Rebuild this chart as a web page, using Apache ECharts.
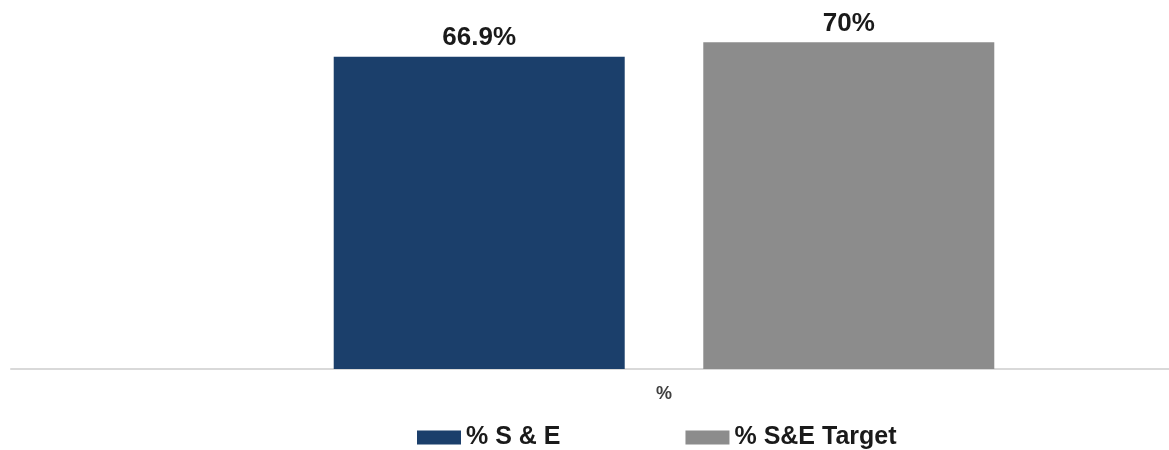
<!DOCTYPE html>
<html>
<head>
<meta charset="utf-8">
<style>
html,body{margin:0;padding:0;background:#fff;}
#chart{width:1169px;height:450px;}
</style>
<script src="https://cdn.jsdelivr.net/npm/echarts@6/dist/echarts.min.js"></script>
</head>
<body>
<div id="chart"></div>
<script>
const categories = ['%'];
const seriesNames = ['% S & E', '% S&E Target'];
const seValues = [66.9];
const targetValues = [70];
const valueLabels = ['66.9%', '70%'];

const chart = echarts.init(document.getElementById('chart'));
const font = 'Liberation Sans, Arial, sans-serif';
chart.setOption({
  animation: false,
  backgroundColor: '#ffffff',
  grid: [
    { left: 160, right: 1, top: 19, bottom: 81, containLabel: false },
    { left: 11, right: 0, top: 19, bottom: 81, containLabel: false }
  ],
  legend: {
    data: seriesNames,
    left: 412, top: 420,
    itemWidth: 44, itemHeight: 14, itemGap: 125,
    icon: 'rect',
    textStyle: { fontFamily: font, fontSize: 25, fontWeight: 'bold', color: '#1a1a1a' }
  },
  xAxis: [
    {
      type: 'category', gridIndex: 0,
      data: categories,
      axisLine: { show: false },
      axisTick: { show: false },
      axisLabel: { margin: 16, fontFamily: font, fontSize: 18, fontWeight: 'bold', color: '#404040' }
    },
    {
      type: 'category', gridIndex: 1,
      data: [''],
      axisLine: { lineStyle: { color: '#d9d9d9', width: 2 } },
      axisTick: { show: false },
      axisLabel: { show: false }
    }
  ],
  yAxis: [
    { type: 'value', gridIndex: 0, min: 0, max: 75, show: false, splitLine: { show: false } },
    { type: 'value', gridIndex: 1, min: 0, max: 75, show: false, splitLine: { show: false } }
  ],
  series: [
    {
      name: seriesNames[0], type: 'bar', data: seValues,
      xAxisIndex: 0, yAxisIndex: 0,
      barWidth: 291, barGap: '27%',
      itemStyle: { color: '#1b3f6b' },
      label: { show: true, position: 'top', distance: 6, formatter: () => valueLabels[0],
        fontFamily: font, fontSize: 26, fontWeight: 'bold', color: '#1a1a1a' }
    },
    {
      name: seriesNames[1], type: 'bar', data: targetValues,
      xAxisIndex: 0, yAxisIndex: 0,
      barWidth: 291, barGap: '27%',
      itemStyle: { color: '#8c8c8c' },
      label: { show: true, position: 'top', distance: 6, formatter: () => valueLabels[1],
        fontFamily: font, fontSize: 26, fontWeight: 'bold', color: '#1a1a1a' }
    }
  ]
});
</script>
</body>
</html>
